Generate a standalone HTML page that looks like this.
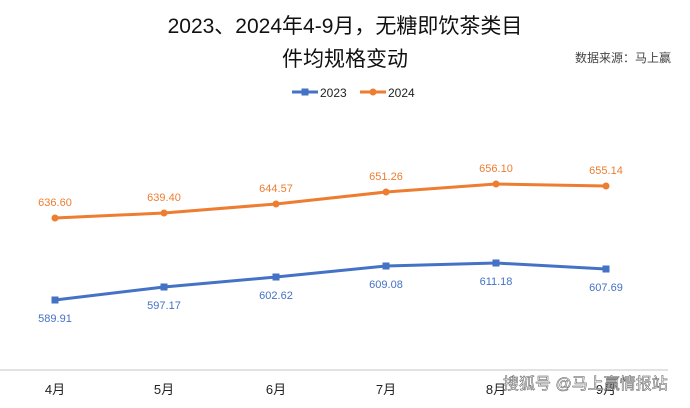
<!DOCTYPE html>
<html><head><meta charset="utf-8"><style>
body{margin:0;width:690px;height:403px;background:#fff;overflow:hidden;font-family:"Liberation Sans","Noto Sans CJK SC",sans-serif;}
</style></head><body>
<svg width="690" height="403" xmlns="http://www.w3.org/2000/svg" font-family="Liberation Sans, Noto Sans CJK SC, sans-serif">
<text x="345" y="33" font-size="21" text-anchor="middle" fill="#111">2023、2024年4-9月，无糖即饮茶类目</text>
<text x="345" y="66" font-size="21" text-anchor="middle" fill="#111">件均规格变动</text>
<text x="623" y="62" font-size="12" text-anchor="middle" fill="#444">数据来源：马上赢</text>
<line x1="292" y1="92" x2="318" y2="92" stroke="#4472C4" stroke-width="3"/><rect x="301.5" y="88.5" width="7" height="7" fill="#4472C4"/>
<text x="320" y="97" font-size="12" fill="#222">2023</text>
<line x1="360" y1="92" x2="386" y2="92" stroke="#ED7D31" stroke-width="3"/><circle cx="373" cy="92" r="3.5" fill="#ED7D31"/>
<text x="388" y="97" font-size="12" fill="#222">2024</text>
<line x1="0" y1="370" x2="668" y2="370" stroke="#d9d9d9" stroke-width="1.5"/>
<polyline points="55,218 164,213 276,204 386,192 496,184 606,186" fill="none" stroke="#ED7D31" stroke-width="3"/>
<g fill="#ED7D31"><circle cx="55" cy="218" r="3.5"/><circle cx="164" cy="213" r="3.5"/><circle cx="276" cy="204" r="3.5"/><circle cx="386" cy="192" r="3.5"/><circle cx="496" cy="184" r="3.5"/><circle cx="606" cy="186" r="3.5"/></g>
<g font-size="11" fill="#ED7D31" text-anchor="middle"><text x="55" y="206">636.60</text><text x="164" y="201">639.40</text><text x="276" y="192">644.57</text><text x="386" y="180">651.26</text><text x="496" y="172">656.10</text><text x="606" y="174">655.14</text></g>
<polyline points="55,300 164,287 276,277 386,266 496,263 606,269" fill="none" stroke="#4472C4" stroke-width="3"/>
<g fill="#4472C4"><rect x="51.5" y="296.5" width="7" height="7"/><rect x="160.5" y="283.5" width="7" height="7"/><rect x="272.5" y="273.5" width="7" height="7"/><rect x="382.5" y="262.5" width="7" height="7"/><rect x="492.5" y="259.5" width="7" height="7"/><rect x="602.5" y="265.5" width="7" height="7"/></g>
<g font-size="11" fill="#4472C4" text-anchor="middle"><text x="55" y="322">589.91</text><text x="164" y="309">597.17</text><text x="276" y="299">602.62</text><text x="386" y="288">609.08</text><text x="496" y="285">611.18</text><text x="606" y="291">607.69</text></g>
<g font-size="13" fill="#222" text-anchor="middle"><text x="55" y="394">4月</text><text x="164" y="394">5月</text><text x="276" y="394">6月</text><text x="386" y="394">7月</text><text x="496" y="394">8月</text><text x="606" y="394">9月</text></g>
<text x="503" y="389" font-size="16" fill="#fff" stroke="#555" stroke-width="0.5">搜狐号 @马上赢情报站</text>
</svg>
</body></html>
